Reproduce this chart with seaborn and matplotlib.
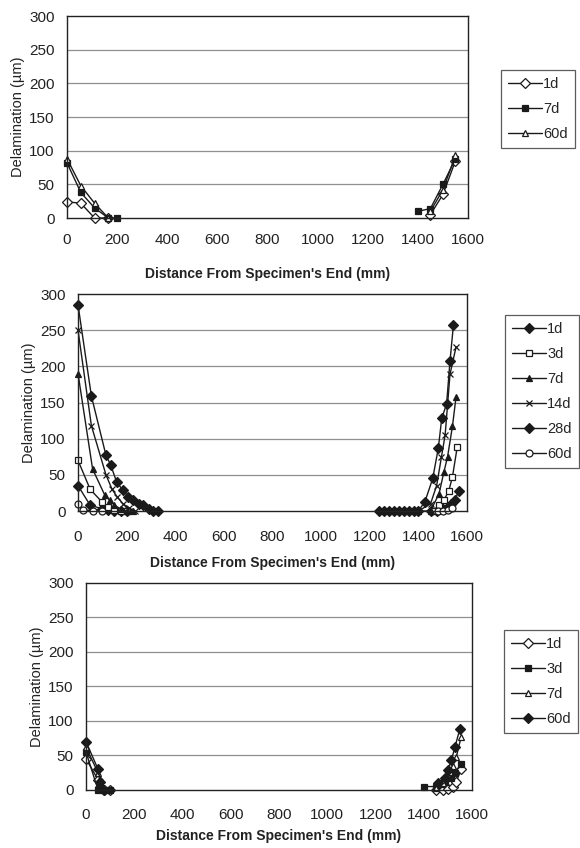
import numpy as np
import seaborn as sns
import matplotlib.pyplot as plt

# ---- data (x in mm, y in micrometres) ----
# left / right end segments are separate lines in the original
P1_1D = dict(xl=[0, 55, 110, 165], yl=[24, 22, 0, 0],
             xr=[1450, 1500, 1550], yr=[5, 35, 85])
P1_7D = dict(xl=[0, 55, 110, 165, 200], yl=[82, 38, 15, 0, 0],
             xr=[1400, 1450, 1500, 1550], yr=[10, 14, 50, 88])
P1_60D = dict(xl=[0, 55, 110, 165], yl=[88, 48, 22, 0],
              xr=[1450, 1500, 1550], yr=[10, 42, 93])

P2_1D = dict(xl=[0, 50, 100, 125, 150, 175, 200], yl=[35, 8, 3, 1, 0, 0, 0],
             xr=[1450, 1475, 1500, 1520, 1535, 1550, 1565], yr=[0, 0, 3, 5, 9, 15, 27])
P2_3D = dict(xl=[0, 50, 100, 125, 150, 175, 200], yl=[70, 30, 12, 5, 2, 0, 0],
             xr=[1460, 1485, 1505, 1525, 1540, 1560], yr=[0, 8, 15, 28, 47, 89])
P2_7D = dict(xl=[0, 60, 110, 130, 150, 175, 200, 225], yl=[190, 58, 22, 15, 8, 3, 0, 0],
             xr=[1250, 1300, 1350, 1400, 1450, 1485, 1505, 1520, 1540, 1555],
             yr=[0, 0, 0, 0, 0, 24, 54, 75, 117, 158])
P2_14D = dict(xl=[0, 55, 115, 140, 160, 185, 210, 235], yl=[250, 118, 50, 30, 20, 10, 4, 0],
              xr=[1400, 1450, 1475, 1495, 1510, 1530, 1555], yr=[0, 10, 35, 75, 105, 189, 227])
P2_28D = dict(xl=[0, 55, 115, 134, 159, 184, 207, 228, 250, 269, 290, 310, 330],
              yl=[285, 159, 77, 64, 40, 29, 20, 15, 10, 8, 3, 0, 0],
              xr=[1240, 1260, 1280, 1300, 1320, 1340, 1360, 1380, 1400,
                  1427, 1459, 1482, 1496, 1516, 1530, 1544],
              yr=[0, 0, 0, 0, 0, 0, 0, 0, 0, 13, 45, 87, 128, 148, 207, 257])
P2_60D = dict(xl=[0, 20, 60, 100], yl=[10, 2, 0, 0],
              xr=[1480, 1500, 1520, 1540], yr=[0, 0, 2, 4])

P3_1D = dict(xl=[0, 50, 60, 75, 100], yl=[45, 15, 5, 0, 0],
             xr=[1450, 1480, 1500, 1520, 1535, 1555], yr=[0, 0, 2, 5, 12, 30])
P3_3D = dict(xl=[0, 50, 75, 100], yl=[55, 0, 0, 0],
             xr=[1400, 1450, 1470, 1490, 1515, 1530, 1555], yr=[5, 5, 8, 12, 17, 25, 37])
P3_7D = dict(xl=[0, 50, 60, 75], yl=[62, 25, 10, 0],
             xr=[1450, 1480, 1500, 1520, 1535, 1555], yr=[3, 10, 20, 35, 48, 77])
P3_60D = dict(xl=[0, 50, 60, 75], yl=[70, 30, 12, 0],
              xr=[1460, 1490, 1500, 1515, 1530, 1550], yr=[10, 18, 29, 44, 63, 89])

# marker styles: (marker, filled)
OPEN_DIAMOND = ("D", False)
FILLED_DIAMOND = ("D", True)
FILLED_SQUARE = ("s", True)
OPEN_SQUARE = ("s", False)
OPEN_TRIANGLE = ("^", False)
FILLED_TRIANGLE = ("^", True)
CROSS = ("x", True)
OPEN_CIRCLE = ("o", False)

panels = [
    dict(rect=[0.1155, 0.7429, 0.6914, 0.2382], xpad=11, lpad=14,
         legend_box=(501, 70),
         series=[("1d", P1_1D, OPEN_DIAMOND), ("7d", P1_7D, FILLED_SQUARE),
                 ("60d", P1_60D, OPEN_TRIANGLE)]),
    dict(rect=[0.1345, 0.3974, 0.6707, 0.2559], xpad=14, lpad=8,
         legend_box=(505, 315),
         series=[("1d", P2_1D, FILLED_DIAMOND), ("3d", P2_3D, OPEN_SQUARE),
                 ("7d", P2_7D, FILLED_TRIANGLE), ("14d", P2_14D, CROSS),
                 ("28d", P2_28D, FILLED_DIAMOND), ("60d", P2_60D, OPEN_CIRCLE)]),
    dict(rect=[0.1483, 0.0684, 0.6655, 0.2441], xpad=13, lpad=5,
         legend_box=(504, 630),
         series=[("1d", P3_1D, OPEN_DIAMOND), ("3d", P3_3D, FILLED_SQUARE),
                 ("7d", P3_7D, OPEN_TRIANGLE), ("60d", P3_60D, FILLED_DIAMOND)]),
]

sns.set_style("white")
plt.rcParams["font.family"] = ["Liberation Sans", "DejaVu Sans"]

fig = plt.figure(figsize=(5.8, 8.48), dpi=100)

for p in panels:
    ax = fig.add_axes(p["rect"])
    for label, s, (mk, filled) in p["series"]:
        style = dict(color="#1a1a1a", lw=1.0, marker=mk, markersize=5,
                     markeredgecolor="#1a1a1a", markeredgewidth=0.9,
                     markerfacecolor="#1a1a1a" if filled else "white",
                     clip_on=False)
        if mk == "D":
            style["markersize"] = 4.6
        sns.lineplot(x=s["xl"], y=s["yl"], ax=ax, label=label, sort=False, **style)
        sns.lineplot(x=s["xr"], y=s["yr"], ax=ax, sort=False, **style)

    ax.set_xlim(0, 1600)
    ax.set_ylim(0, 300)
    ax.set_xticks(np.arange(0, 1601, 200))
    ax.set_yticks(np.arange(0, 301, 50))
    for yv in range(50, 300, 50):
        ax.axhline(yv, color="#8f8f8f", lw=0.9, zorder=0)
    for side in ax.spines.values():
        side.set_color("#222222")
        side.set_linewidth(1.0)
    ax.tick_params(axis="x", direction="in", length=3, width=0.8,
                   labelsize=11, pad=p["xpad"], colors="#222222")
    ax.tick_params(axis="y", length=0, labelsize=11, pad=9, colors="#222222")
    ax.set_xlabel("Distance From Specimen's End (mm)", fontsize=10,
                  fontweight="bold", labelpad=p["lpad"], color="#222222")
    ax.set_ylabel("Delamination (\u00b5m)", fontsize=10.5, labelpad=3,
                  color="#222222")

    lx, ly = p["legend_box"]
    leg = ax.legend(loc="upper left", bbox_to_anchor=(lx / 580, 1 - ly / 848),
                    bbox_transform=fig.transFigure, frameon=True, fancybox=False,
                    fontsize=10.5, handlelength=2.3, handletextpad=0.1,
                    labelspacing=0.75, borderpad=0.5, borderaxespad=0)
    leg.get_frame().set_edgecolor("#333333")
    leg.get_frame().set_linewidth(0.9)

fig.savefig("out.png", dpi=100)
